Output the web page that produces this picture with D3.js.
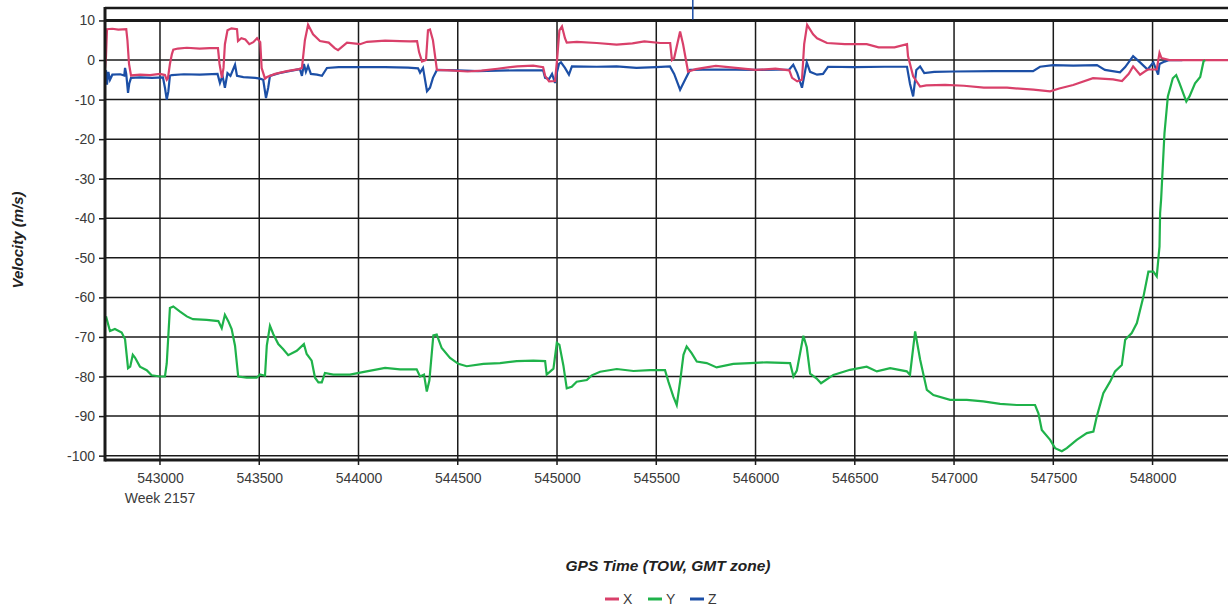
<!DOCTYPE html>
<html>
<head>
<meta charset="utf-8">
<script src="https://cdn.jsdelivr.net/npm/d3@7"></script>
<style>
  html, body { margin: 0; padding: 0; background: #fff; }
  svg { display: block; font-family: "Liberation Sans", Arial, sans-serif; }
</style>
</head>
<body>
<svg id="chart" width="1228" height="610"></svg>
<script>
// ---- data ----
const yTicks = [10, 0, -10, -20, -30, -40, -50, -60, -70, -80, -90, -100];
const xTicks = [543000, 543500, 544000, 544500, 545000, 545500, 546000, 546500, 547000, 547500, 548000];
const weekLabel = "Week 2157";
const xTitle = "GPS Time (TOW, GMT zone)";
const yTitle = "Velocity (m/s)";
const seriesNames = ["X", "Y", "Z"];
const seriesColors = ["#d9406a", "#1fb24a", "#1c4fa6"];
const cursorTime = 545684;

const seriesX = [[542723,-2],[542728,1],[542733,7.8],[542760,7.9],[542790,7.7],[542830,7.8],[542836,5],[542844,-1],[542854,-3.9],[542900,-3.7],[542950,-3.8],[543000,-3.5],[543025,-3.8],[543034,-5],[543040,-4.6],[543050,-1],[543060,1.5],[543067,2.6],[543090,2.9],[543135,3.1],[543200,2.9],[543250,3],[543292,3.0],[543300,-1],[543312,-4.5],[543320,-2],[543327,4],[543340,7.5],[543360,8.0],[543388,7.8],[543393,4.8],[543410,5.5],[543430,5.2],[543450,4.0],[543470,4.5],[543489,5.5],[543505,4.5],[543512,-2],[543529,-4.7],[543539,-4.3],[543580,-3.5],[543640,-2.8],[543700,-2.3],[543715,-2],[543730,5],[543746,8.9],[543771,6.5],[543806,4.8],[543850,4.4],[543880,3.0],[543897,2.5],[543942,4.4],[544008,4.0],[544043,4.6],[544134,4.9],[544209,4.8],[544260,4.7],[544295,4.8],[544305,2],[544320,-0.4],[544340,0],[544350,7.5],[544360,7.7],[544375,5],[544395,-2.5],[544460,-2.6],[544550,-2.9],[544620,-2.7],[544700,-2.2],[544800,-1.6],[544880,-1.4],[544930,-1.8],[544940,-4],[544960,-5.4],[544990,-5.3],[545000,0],[545012,7.5],[545025,8.5],[545040,5.5],[545049,4.4],[545100,4.6],[545200,4.3],[545300,3.9],[545380,4.2],[545440,4.7],[545520,4.3],[545570,4.3],[545579,0],[545590,0.5],[545620,7.2],[545635,4],[545660,-2.9],[545700,-2.3],[545760,-1.8],[545800,-1.5],[545900,-2.0],[546000,-2.5],[546100,-2.2],[546170,-2.6],[546184,-4.5],[546210,-5.4],[546234,-5.0],[546245,4],[546260,8.9],[546290,6.5],[546310,5.5],[546360,4.3],[546450,4.0],[546560,4.0],[546620,3.2],[546700,3.2],[546763,4.0],[546768,1],[546794,-4.1],[546829,-6.7],[546860,-6.4],[546955,-6.3],[547050,-6.5],[547150,-7.0],[547267,-7.0],[547400,-7.5],[547484,-7.9],[547530,-7.2],[547600,-6.3],[547700,-4.6],[547801,-4.9],[547846,-5.3],[547880,-3.5],[547902,-1.6],[547937,-3.7],[547975,-2.4],[548021,-2.4],[548035,1.8],[548045,0.5],[548085,0],[548200,0],[548380,0]];

const seriesY = [[542728,-64.8],[542748,-68.5],[542773,-68],[542807,-68.9],[542824,-70.6],[542839,-77.9],[542850,-77.5],[542863,-74.5],[542874,-75.2],[542899,-77.5],[542933,-78.4],[542958,-79.7],[543000,-80],[543025,-80],[543034,-76.7],[543050,-62.7],[543067,-62.3],[543101,-63.6],[543135,-64.8],[543166,-65.5],[543235,-65.7],[543294,-66],[543311,-67.8],[543327,-64.4],[543344,-66],[543361,-68],[543378,-72.2],[543394,-80],[543437,-80.3],[543487,-80.3],[543504,-79.5],[543529,-79.8],[543538,-72.2],[543554,-67.2],[543571,-69.3],[543596,-71.8],[543621,-73.1],[543646,-74.6],[543689,-73.5],[543725,-71.8],[543739,-74.3],[543764,-76],[543781,-80.3],[543798,-81.5],[543815,-81.5],[543831,-79.1],[543873,-79.5],[543957,-79.5],[544041,-78.7],[544134,-77.8],[544209,-78.2],[544293,-78.2],[544310,-80],[544330,-79.5],[544344,-83.8],[544357,-81],[544377,-69.6],[544394,-69.4],[544419,-72.8],[544461,-75.3],[544503,-76.8],[544545,-77.4],[544629,-76.8],[544713,-76.6],[544797,-76.1],[544881,-76],[544940,-76.1],[544948,-79.5],[544982,-78],[544999,-71.5],[545012,-72],[545032,-77.2],[545049,-83],[545074,-82.6],[545099,-81.3],[545150,-80.9],[545175,-79.7],[545217,-78.8],[545301,-78.1],[545385,-78.6],[545469,-78.4],[545544,-78.4],[545561,-81.3],[545586,-85.1],[545603,-87.2],[545620,-81.3],[545637,-74.5],[545653,-72.4],[545678,-74.1],[545704,-76.2],[545754,-76.6],[545804,-77.7],[545888,-76.8],[545972,-76.6],[546057,-76.4],[546174,-76.6],[546191,-80],[546208,-78.5],[546241,-69.7],[546258,-72.6],[546275,-79.3],[546308,-80.5],[546330,-81.7],[546392,-79.6],[546476,-78.3],[546560,-77.5],[546611,-78.7],[546678,-77.9],[546762,-78.7],[546778,-79.6],[546804,-68.6],[546829,-75.7],[546863,-83.4],[546896,-84.7],[546980,-85.9],[547064,-85.9],[547147,-86.3],[547232,-86.9],[547316,-87.2],[547408,-87.2],[547425,-89.3],[547442,-93.5],[547484,-96],[547509,-98.1],[547543,-98.9],[547568,-98.1],[547618,-96],[547669,-94.3],[547702,-93.9],[547719,-90.1],[547752,-84.2],[547786,-81.3],[547811,-78.7],[547845,-77.1],[547862,-70.7],[547895,-69],[547921,-66.5],[547954,-59.8],[547979,-53.5],[548004,-53.5],[548021,-54.7],[548035,-47.1],[548038,-38.7],[548043,-35.3],[548060,-18.5],[548077,-9.2],[548102,-4.6],[548119,-3.8],[548136,-5.9],[548170,-10.5],[548186,-9.2],[548214,-5.9],[548240,-4.3],[548257,-0.3],[548265,0]];

const seriesZ = [[542723,-4],[542728,-2.6],[542733,-6.2],[542740,-3],[542748,-5],[542760,-3.7],[542800,-3.6],[542820,-3.9],[542824,-2],[542830,-3.5],[542839,-8.3],[542845,-6],[542854,-4.5],[542900,-4.4],[542960,-4.5],[543015,-4.4],[543025,-7],[543034,-10],[543042,-8],[543050,-4],[543060,-3.8],[543120,-3.6],[543200,-3.7],[543290,-3.5],[543302,-5.8],[543315,-4],[543327,-7],[543340,-3.3],[543355,-4],[543378,-1.2],[543388,-4],[543420,-4.3],[543480,-4.5],[543504,-4.7],[543520,-5],[543534,-9.6],[543545,-7],[543554,-4],[543600,-3.3],[543650,-2.8],[543705,-2.3],[543715,-4],[543725,-1],[543735,-3],[543746,-1.5],[543760,-3.5],[543791,-3.7],[543816,-4.0],[543841,-2.0],[543900,-1.8],[544000,-1.8],[544134,-1.8],[544250,-1.9],[544300,-2.1],[544310,-3.2],[544325,-2],[544345,-7.9],[544360,-7],[544375,-4.5],[544395,-2.5],[544500,-2.6],[544600,-2.8],[544700,-2.7],[544800,-2.6],[544930,-2.6],[544940,-4.5],[544960,-4.8],[544975,-3.5],[544990,-5.8],[545000,-3],[545010,-1],[545020,-0.6],[545040,-2],[545060,-3.7],[545075,-1.6],[545200,-1.7],[545300,-1.6],[545400,-2.0],[545500,-1.8],[545569,-1.6],[545590,-3.5],[545620,-7.5],[545645,-5],[545670,-2.5],[545800,-2.4],[546000,-2.5],[546170,-2.4],[546190,-1.2],[546210,-3.3],[546234,-7],[546258,-0.6],[546275,-3],[546310,-3.7],[546340,-3.5],[546365,-1.7],[546500,-1.8],[546650,-1.7],[546763,-1.7],[546778,-6],[546794,-9.2],[546810,-2.5],[546829,-1.6],[546850,-3.3],[546900,-3.0],[547000,-2.9],[547200,-2.8],[547398,-2.8],[547433,-1.7],[547499,-1.3],[547600,-1.4],[547720,-1.3],[547760,-2.5],[547836,-3.1],[547862,-1.8],[547902,1.0],[547937,-0.6],[547975,-2.4],[548004,-0.6],[548028,-3.7],[548035,-1],[548060,-0.4],[548085,0],[548150,0]];

// ---- layout ----
const svg = d3.select("#chart");
const plot = { left: 105, right: 1228, top: 8, bottom: 460 };
const x = d3.scaleLinear().domain([542723, 548380]).range([plot.left, plot.right]);
const y = d3.scaleLinear().domain([-101.1, 13.15]).range([plot.bottom, plot.top]);
const ink = "#1a1a1a";
const textCol = "#3a3a3a";
const plainNum = d => String(d);

svg.append("defs").append("clipPath").attr("id", "clip")
  .append("rect").attr("x", plot.left).attr("y", plot.top)
  .attr("width", plot.right - plot.left).attr("height", plot.bottom - plot.top);

// horizontal gridlines
svg.append("g").selectAll("line").data(yTicks).join("line")
  .attr("x1", plot.left).attr("x2", plot.right)
  .attr("y1", d => y(d)).attr("y2", d => y(d))
  .attr("stroke", ink).attr("stroke-width", d => d === 10 ? 3 : 1.5);

// vertical gridlines
svg.append("g").selectAll("line").data(xTicks).join("line")
  .attr("x1", d => x(d)).attr("x2", d => x(d))
  .attr("y1", y(10)).attr("y2", plot.bottom + 5)
  .attr("stroke", ink).attr("stroke-width", 1.5);

// y axis (ticks + labels)
const yAxis = svg.append("g").attr("transform", `translate(${plot.left},0)`)
  .call(d3.axisLeft(y).tickValues(yTicks).tickSize(6).tickPadding(4).tickFormat(plainNum));
yAxis.select(".domain").remove();
yAxis.selectAll(".tick line").attr("stroke", ink).attr("stroke-width", 1.5);
yAxis.selectAll(".tick text").attr("fill", textCol).style("font-size", "14px")
  .style("font-family", "'Liberation Sans', Arial, sans-serif");

// x axis labels
const xAxis = svg.append("g").attr("transform", `translate(0,${plot.bottom})`)
  .call(d3.axisBottom(x).tickValues(xTicks).tickSize(0).tickPadding(13).tickFormat(plainNum));
xAxis.select(".domain").remove();
xAxis.selectAll(".tick text").attr("fill", textCol).style("font-size", "14px")
  .style("font-family", "'Liberation Sans', Arial, sans-serif");

svg.append("text").attr("x", x(xTicks[0])).attr("y", 503)
  .attr("text-anchor", "middle").attr("fill", textCol).style("font-size", "14px")
  .text(weekLabel);

// series
const line = d3.line().x(d => x(d[0])).y(d => y(d[1]));
const lines = svg.append("g").attr("clip-path", "url(#clip)");
const drawOrder = [[seriesZ, 2], [seriesX, 0], [seriesY, 1]];
drawOrder.forEach(([data, i]) => {
  lines.append("path").datum(data).attr("d", line)
    .attr("fill", "none").attr("stroke", seriesColors[i])
    .attr("stroke-width", 2.2).attr("stroke-linejoin", "miter");
});

// borders
svg.append("line").attr("x1", plot.left).attr("x2", plot.right)
  .attr("y1", plot.top).attr("y2", plot.top).attr("stroke", ink).attr("stroke-width", 2.5);
svg.append("line").attr("x1", plot.left).attr("x2", plot.right)
  .attr("y1", plot.bottom).attr("y2", plot.bottom).attr("stroke", ink).attr("stroke-width", 3);
svg.append("line").attr("x1", plot.left).attr("x2", plot.left)
  .attr("y1", plot.top - 1).attr("y2", plot.bottom + 1.5).attr("stroke", ink).attr("stroke-width", 3);

// cursor marker
svg.append("line").attr("x1", x(cursorTime)).attr("x2", x(cursorTime))
  .attr("y1", 0).attr("y2", y(10) - 1)
  .attr("stroke", seriesColors[2]).attr("stroke-width", 1.5);

// titles
svg.append("text").attr("transform", "translate(23,240) rotate(-90)")
  .attr("text-anchor", "middle").attr("fill", "#222")
  .style("font-size", "15px").style("font-weight", "bold").style("font-style", "italic")
  .text(yTitle);
svg.append("text").attr("x", 668).attr("y", 571)
  .attr("text-anchor", "middle").attr("fill", "#222")
  .style("font-size", "15.5px").style("font-weight", "bold").style("font-style", "italic")
  .text(xTitle);

// legend
const legendX = [605, 648, 690];
const lg = svg.append("g");
seriesNames.forEach((name, i) => {
  lg.append("line").attr("x1", legendX[i]).attr("x2", legendX[i] + 14)
    .attr("y1", 599).attr("y2", 599).attr("stroke", seriesColors[i]).attr("stroke-width", 3);
  lg.append("text").attr("x", legendX[i] + 18).attr("y", 604)
    .attr("fill", textCol).style("font-size", "14px").text(name);
});
</script>
</body>
</html>
